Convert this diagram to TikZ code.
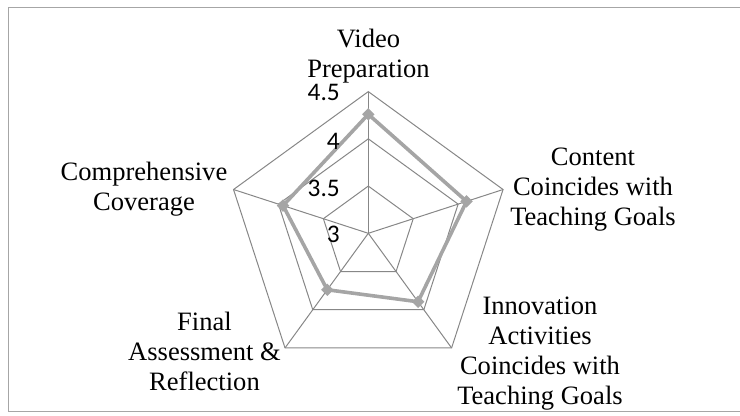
\documentclass[tikz,border=0pt]{standalone}
\usepackage{fontspec}
\setmainfont{Liberation Serif}
\newfontfamily\tickfont{Carlito}
\usetikzlibrary{shapes.geometric}
\definecolor{gridgray}{HTML}{878787}
\definecolor{datagray}{HTML}{A5A5A5}
\definecolor{framegray}{HTML}{A6A6A6}
\begin{document}
\begin{tikzpicture}[x=0.75pt,y=-0.75pt,
  gridline/.style={draw=gridgray,line width=0.75pt},
  dataline/.style={draw=datagray,line width=2.7pt,line join=round},
  marker/.style={diamond,fill=datagray,inner sep=0pt,minimum size=9.5pt},
  framebox/.style={draw=framegray,line width=1.1pt},
  lab/.style={align=center,inner sep=0pt,font=\fontsize{19.9}{22.5}\selectfont},
  tick/.style={anchor=east,inner sep=0pt,font=\tickfont\fontsize{19}{22}\selectfont}]
\useasboundingbox (0,0) rectangle (740,415);
% frame (open on the right)
\coordinate (f1) at (740,7.3);
\coordinate (f2) at (8.3,7.3);
\coordinate (f3) at (8.3,411.7);
\coordinate (f4) at (740,411.7);
\draw[framebox] (f1) -- (f2) -- (f3) -- (f4);
% radar geometry
\coordinate (O) at (368.3,233.3);
\begin{scope}[shift={(368.3,233.3)}]
  \foreach \i/\a/\r in {0/-90/119,1/-18/103.3,2/54/84.6,3/126/69.8,4/-162/89.6} {
    \coordinate (v\i) at (\a:141.7);
    \coordinate (m\i) at (\a:94.47);
    \coordinate (n\i) at (\a:47.23);
    \coordinate (d\i) at (\a:\r);
  }
\end{scope}
\foreach \i in {0,...,4} { \draw[gridline] (O) -- (v\i); }
\draw[gridline] (v0) -- (v1) -- (v2) -- (v3) -- (v4) -- cycle;
\draw[gridline] (m0) -- (m1) -- (m2) -- (m3) -- (m4) -- cycle;
\draw[gridline] (n0) -- (n1) -- (n2) -- (n3) -- (n4) -- cycle;
% data
\draw[dataline] (d0) -- (d1) -- (d2) -- (d3) -- (d4) -- cycle;
\foreach \i in {0,...,4} { \node[marker] (p\i) at (d\i) {}; }
% axis values
\node[tick] (t45) at (340,92) {4.5};
\node[tick] (t40) at (340,141) {4};
\node[tick] (t35) at (340,188) {3.5};
\node[tick] (t30) at (340,234) {3};
% category labels
\node[lab] (lVideo) at (368.5,55.9) {Video\\Preparation};
\node[lab] (lContent) at (593,189.6) {Content\\Coincides with\\Teaching Goals};
\node[lab] (lInnov) at (540,353.4) {Innovation\\Activities\\Coincides with\\Teaching Goals};
\node[lab] (lFinal) at (204.5,351) {Final\\Assessment \&\\Reflection};
\node[lab] (lComp) at (144,189) {Comprehensive\\Coverage};
\end{tikzpicture}
\end{document}
